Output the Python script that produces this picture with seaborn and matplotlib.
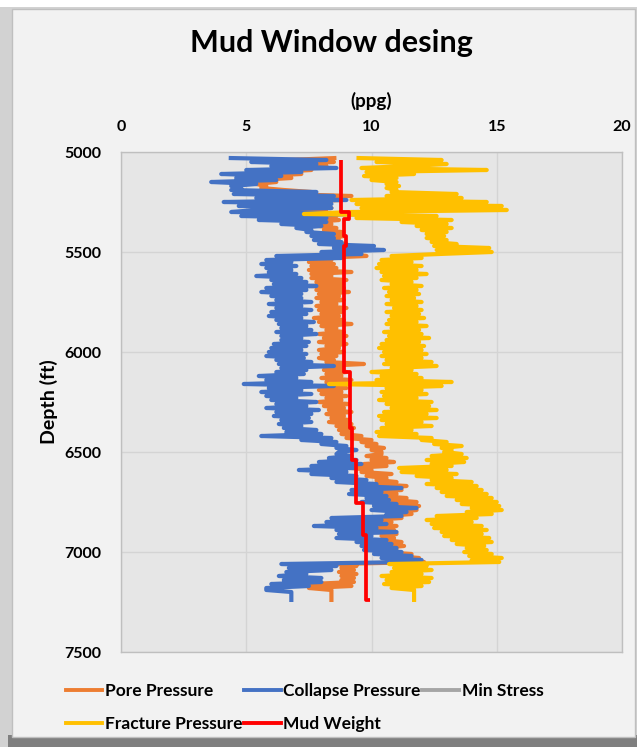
import numpy as np
import pandas as pd
import matplotlib
matplotlib.use("Agg")
import matplotlib.pyplot as plt
from matplotlib.patches import Rectangle
import seaborn as sns

# ---------------- data ----------------
depth_ft = list(range(5030, 7251, 10))

pore_pressure = [
    8.6, 6.6, 8.5, 7.0, 8.2, 6.8, 7.6, 6.2, 7.2, 5.6,
    6.8, 5.5, 6.2, 5.4, 5.8, 5.6, 6.5, 7.6, 6.5, 9.2,
    7.0, 8.8, 6.5, 8.2, 6.8, 8.4, 7.0, 8.2, 7.5, 8.6,
    7.6, 8.7, 7.8, 8.4, 7.9, 8.6, 8.1, 8.8, 8.2, 8.9,
    8.4, 8.7, 8.3, 9.0, 8.6, 9.8, 8.7, 9.5,
    9.2, 9.8, 7.8, 8.4, 7.5, 8.5, 7.6, 8.6, 7.5, 9.2,
    7.6, 8.4, 7.6, 9.0, 7.8, 8.8, 7.6, 8.9, 7.8, 9.1,
    7.9, 8.7, 7.8, 8.9, 8.0, 8.6, 7.8, 9.0, 7.9, 8.8,
    8.0, 8.7, 7.7, 8.9, 7.9, 9.2, 8.0, 8.6, 8.2, 8.9,
    7.9, 9.0, 8.1, 8.8, 7.9, 9.0, 8.2, 8.7, 7.9, 8.9,
    8.0, 8.6, 7.9, 8.5, 8.2, 9.7, 8.0, 8.8, 8.1, 9.0,
    8.2, 8.8, 8.0, 9.2, 8.2, 8.6, 8.1, 9.0, 7.9, 8.8,
    8.0, 9.0, 8.2, 8.8, 7.9, 9.1, 8.1, 8.9, 8.3, 9.2,
    8.2, 8.9, 8.4, 9.1, 8.3, 9.2, 8.6, 9.3, 8.7, 9.2,
    8.8, 9.6, 9.0, 10.0, 9.6, 10.2, 9.8, 10.5, 10.0, 10.4,
    10.4, 9.8, 10.6, 10.0, 10.9, 9.7, 10.6, 9.2, 10.0, 9.6,
    10.8, 9.8, 10.6, 10.2, 11.0, 10.1, 11.4, 10.4, 11.2, 10.3,
    11.0, 10.2, 11.4, 10.8, 11.8, 10.9, 11.9, 11.0, 11.8, 11.2,
    11.6, 10.6, 11.2, 10.0, 10.8, 9.8, 11.0, 10.0, 10.9, 10.2,
    11.0, 10.4, 10.9, 10.5, 11.2, 10.4, 11.3, 10.3, 11.0, 10.4,
    11.6, 11.0, 11.9, 11.3, 12.1, 8.6, 9.4, 8.8, 9.3, 8.7,
    9.4, 8.8, 9.3, 8.8, 9.3, 7.6, 9.2, 7.5, 8.4, 8.4,
    8.4, 8.4, 8.4, 8.4, 8.4,
]

collapse_pressure = [
    4.3, 8.2, 5.2, 7.8, 6.0, 8.6, 5.0, 7.2, 4.0, 6.4,
    4.6, 6.2, 3.6, 5.4, 4.4, 4.8, 4.4, 7.8, 4.5, 8.5,
    5.4, 9.0, 4.1, 8.4, 4.7, 8.4, 5.4, 4.4, 9.7, 4.8,
    8.2, 5.5, 8.2, 6.4, 8.0, 7.0, 7.6, 7.4, 8.5, 7.6,
    8.5, 7.7, 8.8, 7.9, 10.1, 8.5, 10.5, 8.0,
    9.6, 6.2, 8.8, 5.8, 6.8, 5.6, 7.0, 5.8, 6.8, 5.9,
    7.0, 5.4, 7.2, 6.0, 7.4, 6.1, 7.8, 5.8, 7.4, 5.6,
    7.2, 6.0, 7.2, 6.2, 7.6, 5.9, 7.2, 6.2, 7.6, 6.0,
    7.4, 5.9, 7.2, 6.2, 7.7, 6.3, 7.4, 6.4, 7.6, 6.2,
    7.8, 6.4, 7.2, 6.4, 7.5, 6.1, 7.4, 6.0, 7.2, 5.9,
    7.4, 5.8, 7.3, 6.2, 7.6, 6.3, 8.5, 6.4, 7.4, 6.2,
    7.3, 5.5, 7.0, 5.8, 7.6, 4.9, 8.5, 5.9, 7.2, 5.6,
    7.6, 5.8, 7.0, 6.0, 7.8, 6.2, 7.4, 5.8, 7.9, 6.2,
    7.6, 6.1, 7.5, 6.4, 7.6, 6.3, 7.2, 6.5, 7.8, 6.6,
    8.0, 5.6, 8.4, 7.2, 8.6, 8.0, 9.0, 8.6, 9.4, 8.7,
    8.6, 9.2, 8.3, 9.4, 7.9, 9.6, 7.6, 9.3, 7.1, 9.0,
    7.6, 9.4, 8.4, 9.8, 8.6, 10.2, 9.4, 11.2, 9.2, 10.4,
    9.1, 10.6, 9.8, 10.7, 9.6, 11.0, 10.1, 11.8, 10.0, 11.4,
    10.6, 11.2, 8.4, 10.4, 8.2, 10.6, 7.7, 10.2, 8.6, 11.0,
    8.7, 10.0, 8.6, 10.6, 9.4, 10.8, 9.6, 11.0, 9.7, 11.2,
    10.1, 11.6, 10.4, 12.0, 11.6, 6.4, 8.6, 6.7, 8.4, 6.6,
    7.4, 6.3, 8.0, 6.5, 8.0, 6.0, 7.5, 5.8, 5.8, 6.8,
    6.8, 6.8, 6.8, 6.8, 6.8,
]

fracture_pressure = [
    9.4, 12.8, 10.2, 13.0, 11.5, 9.6, 14.6, 9.8, 11.7, 9.7,
    11.0, 10.0, 11.0, 10.6, 11.1, 10.6, 11.0, 10.8, 13.4, 10.6,
    13.6, 9.2, 14.6, 9.4, 15.2, 9.6, 15.4, 9.2, 7.3, 12.6,
    9.4, 13.2, 11.2, 13.0, 11.8, 13.2, 12.0, 13.0, 12.2, 12.9,
    12.2, 13.0, 12.4, 13.4, 12.5, 14.7, 12.6, 14.8,
    12.7, 10.8, 12.0, 10.4, 11.6, 10.3, 12.0, 10.2, 11.8, 10.4,
    12.2, 10.5, 11.8, 10.4, 11.6, 10.8, 12.0, 10.5, 11.8, 10.7,
    11.9, 10.6, 11.7, 10.8, 12.0, 10.6, 11.8, 10.9, 12.0, 10.6,
    11.9, 10.8, 12.1, 10.7, 11.8, 10.6, 12.2, 10.8, 11.9, 10.5,
    12.0, 10.7, 12.3, 10.6, 11.9, 10.4, 12.1, 10.3, 12.0, 10.5,
    12.2, 10.4, 12.0, 10.6, 12.4, 10.5, 12.6, 10.8, 11.6, 10.0,
    11.8, 10.4, 12.0, 10.2, 13.2, 8.3, 12.8, 10.6, 12.0, 10.4,
    12.2, 10.5, 11.8, 10.3, 12.4, 10.6, 12.3, 10.8, 12.6, 10.5,
    12.2, 10.3, 12.6, 10.4, 12.0, 10.6, 12.4, 10.4, 11.6, 10.2,
    11.8, 10.3, 12.4, 12.0, 13.0, 12.5, 13.6, 12.8, 13.2, 12.9,
    13.6, 12.4, 13.8, 12.2, 13.7, 12.4, 13.2, 11.1, 13.0, 11.2,
    13.4, 11.8, 13.2, 12.4, 14.0, 12.2, 14.2, 12.6, 14.4, 12.8,
    14.6, 13.0, 14.8, 13.4, 15.0, 13.6, 15.1, 14.0, 15.2, 13.8,
    14.8, 12.6, 14.2, 12.2, 14.0, 12.4, 14.4, 12.5, 14.6, 12.8,
    14.4, 12.9, 14.7, 13.2, 14.8, 13.4, 14.5, 13.8, 14.6, 13.7,
    14.8, 13.9, 15.2, 14.0, 15.1, 10.7, 12.2, 10.9, 12.4, 10.8,
    12.0, 10.4, 12.4, 10.6, 12.3, 10.5, 12.0, 10.8, 11.7, 11.7,
    11.7, 11.7, 11.7, 11.7, 11.7,
]

min_stress = []          # listed in the legend, no visible trace
min_stress_depth = []

mud_depth = [5040, 5300, 5300, 5335, 5335, 5420, 5420, 5470, 5470,
             6098, 6098, 6380, 6380, 6540, 6540, 6755, 6755, 6915, 6915,
             7240, 7240]
mud_weight = [8.77, 8.77, 9.1, 9.1, 8.9, 8.9, 9.0, 9.0, 8.9,
              8.9, 9.13, 9.13, 9.23, 9.23, 9.4, 9.4, 9.67, 9.67, 9.8,
              9.8, 9.93]

x_ticks = [0, 5, 10, 15, 20]
y_ticks = [5000, 5500, 6000, 6500, 7000, 7500]

series_names = ["Pore Pressure", "Collapse Pressure", "Min Stress",
                "Fracture Pressure", "Mud Weight"]
series_colors = ["#ED7D31", "#4472C4", "#A5A5A5", "#FFC000", "#FF0000"]

# ---------------- figure ----------------
FONT = ["Lato", "DejaVu Sans"]
plt.rcParams["font.family"] = FONT
plt.rcParams["font.weight"] = "bold"

fig = plt.figure(figsize=(6.38, 7.47), dpi=100)
fig.patch.set_facecolor("white")

# chart frame with shadow
fig.patches.append(Rectangle((0.0, 0.0), 0.998, 0.99, transform=fig.transFigure,
                             facecolor="#D2D2D2", edgecolor="none", zorder=-4))
fig.patches.append(Rectangle((0.012, 0.0), 0.986, 0.016, transform=fig.transFigure,
                             facecolor="#7F7F7F", edgecolor="none", zorder=-3))
fig.patches.append(Rectangle((0.019, 0.013), 0.977, 0.975, transform=fig.transFigure,
                             facecolor="#F2F2F2", edgecolor="#BFBFBF", lw=1.0, zorder=-2))

ax = fig.add_axes([121 / 638, 1 - 652 / 747, 501 / 638, 500 / 747])
ax.set_facecolor("#E6E6E6")

frames = [
    (pore_pressure, depth_ft),
    (collapse_pressure, depth_ft),
    (min_stress, min_stress_depth),
    (fracture_pressure, depth_ft),
    (mud_weight, mud_depth),
]
for (vals, dep), name, col in zip(frames, series_names, series_colors):
    lw = 2.7 if name == "Mud Weight" else 3.0
    if len(vals):
        df = pd.DataFrame({"ppg": vals, "depth": dep})
        sns.lineplot(data=df, x="ppg", y="depth", orient="y", sort=False,
                     estimator=None, color=col, lw=lw, ax=ax, legend=False,
                     solid_joinstyle="round", solid_capstyle="butt")

handles = [plt.Line2D([], [], color=c, lw=2.8) for c in series_colors]

ax.set_xlim(0, 20)
ax.set_ylim(7500, 5000)
ax.set_xticks(x_ticks)
ax.set_yticks(y_ticks)
ax.xaxis.tick_top()
ax.xaxis.set_label_position("top")
ax.grid(True, color="#D4D4D4", lw=1.0)
ax.set_axisbelow(True)
for s in ax.spines.values():
    s.set_color("#BFBFBF")
    s.set_linewidth(1.0)
ax.tick_params(axis="both", length=0, labelsize=11.5, labelcolor="black")
ax.tick_params(axis="x", pad=13)
ax.tick_params(axis="y", pad=14)
for lab in ax.get_xticklabels() + ax.get_yticklabels():
    lab.set_fontweight("bold")
ax.set_xlabel("(ppg)", fontsize=13.5, fontweight="bold", labelpad=9)
ax.set_ylabel("Depth (ft)", fontsize=14, fontweight="bold", labelpad=5)

fig.text(0.519, 0.943, "Mud Window desing", ha="center", va="center",
         fontsize=22, fontweight="bold")

order = [0, 3, 1, 4, 2]
leg = fig.legend([handles[i] for i in order], [series_names[i] for i in order],
                 loc="upper left", bbox_to_anchor=(66 / 638, 1 - 683 / 747),
                 ncol=3, frameon=False, fontsize=12.5, handlelength=2.1,
                 handletextpad=0.15, columnspacing=0.1, labelspacing=1.0,
                 borderpad=0, borderaxespad=0)
for t in leg.get_texts():
    t.set_fontweight("bold")

fig.savefig("out.png", dpi=100, facecolor=fig.get_facecolor())
